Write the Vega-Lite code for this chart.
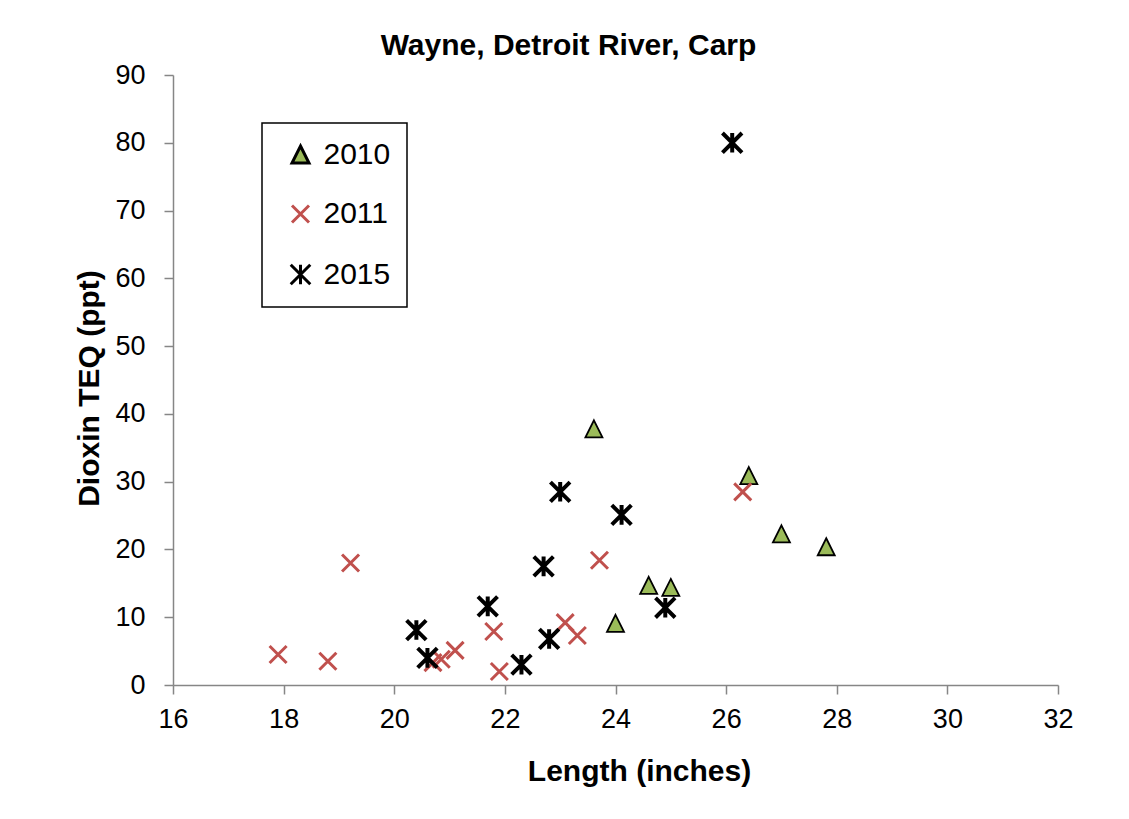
{
  "$schema": "https://vega.github.io/schema/vega-lite/v6.json",
  "autosize": {"type": "none"},
  "padding": {"left": 173, "top": 75, "right": 71, "bottom": 134},
  "width": 885,
  "height": 610,
  "background": "white",
  "title": {
    "text": "Wayne, Detroit River, Carp",
    "fontSize": 30,
    "fontWeight": "bold",
    "font": "Liberation Sans",
    "color": "black",
    "anchor": "middle",
    "dx": -47,
    "dy": 32,
    "offset": 8,
    "baseline": "alphabetic"
  },
  "data": {
    "values": [
      {"year": "2010", "length": 23.61, "teq": 37.8},
      {"year": "2010", "length": 26.41, "teq": 30.9},
      {"year": "2010", "length": 27.0, "teq": 22.3},
      {"year": "2010", "length": 27.81, "teq": 20.4},
      {"year": "2010", "length": 24.6, "teq": 14.7},
      {"year": "2010", "length": 25.0, "teq": 14.4},
      {"year": "2010", "length": 24.0, "teq": 9.1},
      {"year": "2011", "length": 17.9, "teq": 4.5},
      {"year": "2011", "length": 18.8, "teq": 3.5},
      {"year": "2011", "length": 19.21, "teq": 18.0},
      {"year": "2011", "length": 21.1, "teq": 5.1},
      {"year": "2011", "length": 20.7, "teq": 3.3},
      {"year": "2011", "length": 20.85, "teq": 3.8},
      {"year": "2011", "length": 21.8, "teq": 7.9},
      {"year": "2011", "length": 21.9, "teq": 2.0},
      {"year": "2011", "length": 23.09, "teq": 9.2},
      {"year": "2011", "length": 23.31, "teq": 7.3},
      {"year": "2011", "length": 23.71, "teq": 18.4},
      {"year": "2011", "length": 26.3, "teq": 28.5},
      {"year": "2015", "length": 26.11, "teq": 80.0},
      {"year": "2015", "length": 20.4, "teq": 8.1},
      {"year": "2015", "length": 20.6, "teq": 4.0},
      {"year": "2015", "length": 21.69, "teq": 11.6},
      {"year": "2015", "length": 22.3, "teq": 3.0},
      {"year": "2015", "length": 22.8, "teq": 6.8},
      {"year": "2015", "length": 24.9, "teq": 11.4},
      {"year": "2015", "length": 22.7, "teq": 17.5},
      {"year": "2015", "length": 23.0, "teq": 28.5},
      {"year": "2015", "length": 24.11, "teq": 25.1}
    ]
  },
  "mark": {"type": "point", "opacity": 1, "size": 289},
  "encoding": {
    "x": {
      "field": "length",
      "type": "quantitative",
      "title": "Length (inches)",
      "scale": {"domain": [16, 32], "nice": false, "zero": false},
      "axis": {"values": [16, 18, 20, 22, 24, 26, 28, 30, 32], "labelFlush": false, "titleX": 466, "titlePadding": 24, "labelPadding": 12}
    },
    "y": {
      "field": "teq",
      "type": "quantitative",
      "title": "Dioxin TEQ (ppt)",
      "scale": {"domain": [0, 90], "nice": false},
      "axis": {"values": [0, 10, 20, 30, 40, 50, 60, 70, 80, 90], "labelFlush": false, "titleY": 313, "titlePadding": 10, "labelPadding": 19}
    },
    "shape": {
      "field": "year",
      "type": "nominal",
      "scale": {
        "domain": ["2010", "2011", "2015"],
        "range": [
          "M0,-1L1,1L-1,1Z",
          "M-1,-1L1,1M-1,1L1,-1",
          "M-1.15,-1.15L1.15,1.15M-1.15,1.15L1.15,-1.15M0,-1.15L0,1.15"
        ]
      },
      "legend": {"title": null}
    },
    "fill": {
      "field": "year",
      "type": "nominal",
      "scale": {"domain": ["2010", "2011", "2015"], "range": ["#9BBB59", "transparent", "transparent"]},
      "legend": {"title": null}
    },
    "stroke": {
      "field": "year",
      "type": "nominal",
      "scale": {"domain": ["2010", "2011", "2015"], "range": ["#000000", "#C0504D", "#000000"]},
      "legend": {"title": null}
    },
    "strokeWidth": {
      "condition": [
        {"test": "datum.year === '2010'", "value": 1.8},
        {"test": "datum.year === '2011'", "value": 3}
      ],
      "value": 4
    }
  },
  "config": {
    "font": "Liberation Sans",
    "view": {"stroke": null},
    "axis": {
      "grid": false,
      "domainColor": "#868686",
      "domainWidth": 1.5,
      "tickColor": "#868686",
      "tickWidth": 1.5,
      "tickSize": 9,
      "labelFont": "Liberation Sans",
      "labelFontSize": 27,
      "labelColor": "black",
      "titleFont": "Liberation Sans",
      "titleFontSize": 30,
      "titleFontWeight": "bold",
      "titleColor": "black"
    },
    "legend": {
      "orient": "none",
      "legendX": 89,
      "legendY": 48,
      "strokeColor": "black",
      "strokeWidth": 1.5,
      "fillColor": "white",
      "padding": 16.5,
      "rowPadding": 29.5,
      "labelFont": "Liberation Sans",
      "labelFontSize": 30,
      "labelColor": "black",
      "symbolSize": 289,
      "symbolStrokeWidth": 3,
      "symbolOffset": 7,
      "labelOffset": 8
    }
  }
}
